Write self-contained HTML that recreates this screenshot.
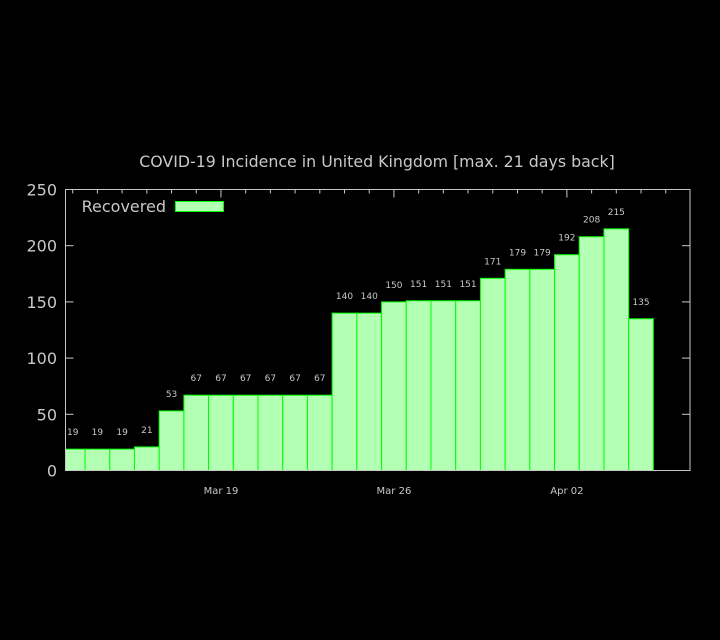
<!DOCTYPE html>
<html><head><meta charset="utf-8"><style>
html,body{margin:0;padding:0;background:#000;}
svg{display:block;font-family:"DejaVu Sans","Liberation Sans",sans-serif;}
</style></head><body>
<svg id="chart" width="720" height="640" viewBox="0 0 720 640">
<rect width="720" height="640" fill="#000"/>
<text x="377" y="167" fill="#c8c8c8" font-size="15.8" text-anchor="middle">COVID-19 Incidence in United Kingdom [max. 21 days back]</text>
<g id="grid"></g>
<g id="bars"></g>
<g id="labels"></g>
<rect x="65.5" y="189.5" width="624.5" height="281" fill="none" stroke="#c8c8c8" stroke-width="1"/>
<g id="axes"></g>
<g>
<text x="166" y="212" fill="#c8c8c8" font-size="16" text-anchor="end">Recovered</text>
<rect x="175.5" y="201.5" width="48" height="10" fill="#b3ffb3" stroke="#00ff00"/>
</g>
</svg>
<script>
const values=[19,19,19,21,53,67,67,67,67,67,67,140,140,150,151,151,151,171,179,179,192,208,215,135];
const yTicks=[0,50,100,150,200,250];
const xTickLabels=["Mar 19","Mar 26","Apr 02"];
const xTickIndex=[6,13,20];
const NS="http://www.w3.org/2000/svg";
const L=65.5,R=690,T=189.5,B=470.5;
function y(v){return B-(v/250)*(B-T);}
function xc(i){return 72.7+i*24.71;}
const W=24.71;
function mk(tag,attrs,parent){const e=document.createElementNS(NS,tag);for(const k in attrs)e.setAttribute(k,attrs[k]);parent.appendChild(e);return e;}
const bars=document.getElementById('bars'),labels=document.getElementById('labels'),axes=document.getElementById('axes');
values.forEach((v,i)=>{
 let x0=Math.max(L,xc(i)-W/2),x1=Math.min(R,xc(i)+W/2);
 const r=mk('rect',{x:x0,y:y(v),width:x1-x0,height:B-y(v),fill:'#b3ffb3',stroke:'#00ff00','stroke-width':1},bars);
 
 
 const t=mk('text',{x:xc(i),y:y(v)-14,fill:'#c8c8c8','font-size':9,'text-anchor':'middle'},labels);
 t.textContent=v;
 
 
});
yTicks.forEach(v=>{
 const t=mk('text',{x:57,y:y(v)+6,fill:'#c8c8c8','font-size':16,'text-anchor':'end'},axes);
 t.textContent=v;
 
 
 if(v>0&&v<250){
  const a=mk('line',{x1:L,x2:L+8,y1:y(v),y2:y(v),stroke:'#c8c8c8'},axes);
  
  
  const b=mk('line',{x1:R-8,x2:R,y1:y(v),y2:y(v),stroke:'#c8c8c8'},axes);
  
  
 }
});
for(let i=0;i<25;i++){
 const major=xTickIndex.includes(i);
 const l=mk('line',{x1:xc(i),x2:xc(i),y1:T,y2:T+(major?8:4),stroke:'#c8c8c8'},axes);
 
 
}
xTickLabels.forEach((s,k)=>{
 const t=mk('text',{x:xc(xTickIndex[k]),y:494,fill:'#c8c8c8','font-size':10,'text-anchor':'middle'},axes);
 t.textContent=s;
 
 
});
</script>
</body></html>
